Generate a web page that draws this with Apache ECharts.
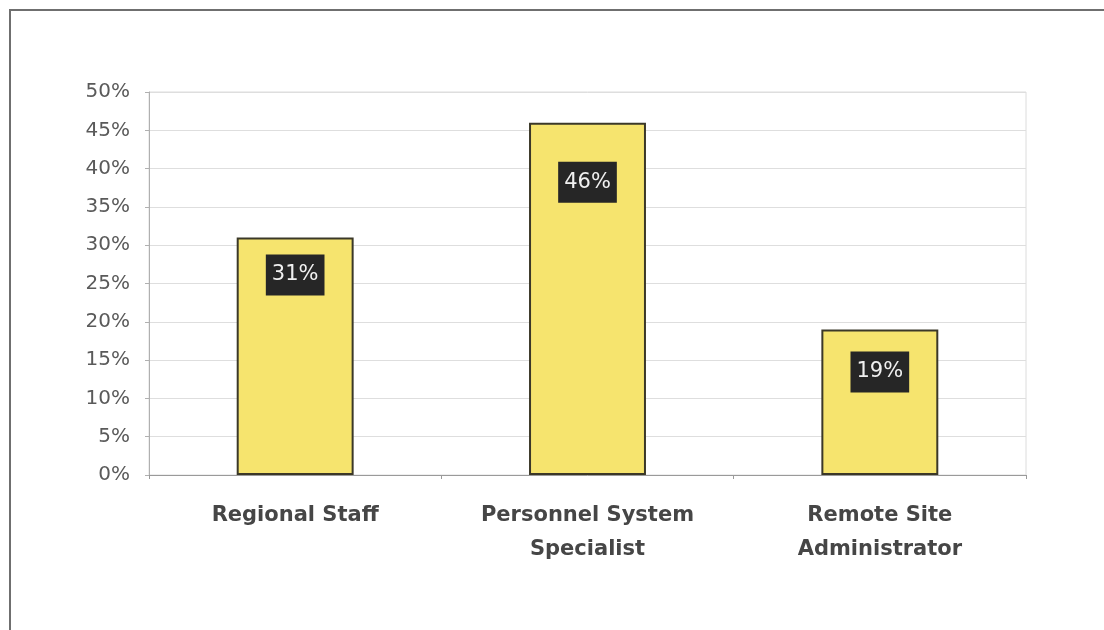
<!DOCTYPE html>
<html>
<head>
<meta charset="utf-8">
<script src="https://cdn.jsdelivr.net/npm/echarts@6/dist/echarts.min.js"></script>
<style>
  html, body { margin: 0; padding: 0; background: #fff; }
  #chart { width: 1104px; height: 630px; }
</style>
</head>
<body>
<div id="chart"></div>
<script>
// Share of respondents by role
const categories = ['Regional Staff', 'Personnel System\nSpecialist', 'Remote Site\nAdministrator'];
const shares = [31, 46, 19];
const yTicks = [0, 5, 10, 15, 20, 25, 30, 35, 40, 45, 50];

const FONT = 'DejaVu Sans, Liberation Sans, Arial, sans-serif';
// gap between each bar's top and its value box
const labelDistances = [17, 39, 22];

const chart = echarts.init(document.getElementById('chart'), null, { renderer: 'canvas' });

chart.setOption({
  backgroundColor: '#ffffff',
  animation: false,
  graphic: [{
    type: 'rect',
    shape: { x: 10, y: 10, width: 1200, height: 700 },
    style: { fill: 'none', stroke: '#6f6f6f', lineWidth: 2 },
    silent: true
  }],
  grid: { left: 149, right: 78, top: 92, bottom: 155, show: true, borderColor: '#dcdcdc', borderWidth: 1 },
  xAxis: {
    type: 'category',
    data: categories,
    axisLine: { lineStyle: { color: '#9a9a9a', width: 1 } },
    axisTick: { show: true, length: 4, lineStyle: { color: '#9a9a9a' } },
    axisLabel: {
      margin: 24,
      color: '#464646',
      fontFamily: FONT,
      fontWeight: 'bold',
      fontSize: 21,
      lineHeight: 34
    }
  },
  yAxis: {
    type: 'value',
    min: yTicks[0],
    max: yTicks[yTicks.length - 1],
    interval: 5,
    axisLine: { show: true, lineStyle: { color: '#b0b0b0' } },
    axisTick: { show: true, length: 4, lineStyle: { color: '#b0b0b0' } },
    splitLine: { lineStyle: { color: '#dedede', width: 1 } },
    axisLabel: {
      margin: 19,
      color: '#5a5a5a',
      fontFamily: FONT,
      fontSize: 20,
      formatter: v => v + '%'
    }
  },
  series: [{
    type: 'bar',
    data: shares.map((v, i) => ({ value: v, label: { distance: labelDistances[i] } })),
    barWidth: '40%',
    itemStyle: { color: '#f6e46e', borderColor: '#3b3828', borderWidth: 2 },
    label: {
      show: true,
      position: 'insideTop',
      formatter: p => p.value + '%',
      color: '#f0f0f0',
      backgroundColor: '#262626',
      fontFamily: FONT,
      fontSize: 21,
      padding: [10, 6, 10, 6]
    }
  }]
});
</script>
</body>
</html>
